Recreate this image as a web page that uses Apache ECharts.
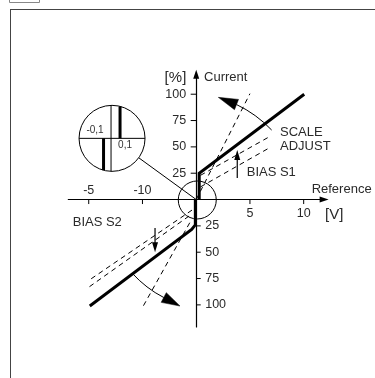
<!DOCTYPE html>
<html><head><meta charset="utf-8">
<script src="https://cdn.jsdelivr.net/npm/echarts@6/dist/echarts.min.js"></script>
<style>html,body{margin:0;padding:0;background:#fff}#c{width:375px;height:378px}</style>
</head><body><div id="c"></div>
<script>
// ---- axis ticks (Reference [V] / Current [%]) ----
const xTickValues = [-10, -5, 5, 10];
const xTickLabels = ['-5', '-10', '5', '10'];
const yTickValues = [100, 75, 50, 25, -25, -50, -75, -100];
const yTickLabels = ['100', '75', '50', '25', '25', '50', '75', '100'];

// ---- characteristic (solid, thick) ----
const upperCurve = [[0.28, 0], [0.28, 25], [10.05, 100]];
const lowerCurve = [[-0.08, 0], [-0.08, -24], [-0.42, -28.3], [-9.9, -101]];

// ---- adjusted characteristics (dashed) ----
const scaleUpper = [[0, 0], [5, 100.5]];
const scaleLower = [[-0.6, -22], [-4.92, -101]];
const biasUpperA = [[0.4, 23], [6.7, 59]];
const biasUpperB = [[0.4, 12], [6.9, 49.6]];
const biasLowerA = [[-0.39, -10], [-9.94, -76.4]];
const biasLowerB = [[-0.67, -15.7], [-9.94, -82.8]];

// ---- SCALE ADJUST curved arrows (start, control, arrow base, tip) ----
const arcStart = [[7.02, 66], [-5.97, -69.8]];
const arcCtrl  = [[5.6, 81.2], [-4.66, -84.4]];
const arcEnd   = [[3.75, 90.2], [-3.02, -93]];
const arcTip   = [[2.06, 97], [-1.51, -101.1]];

// ---- BIAS straight arrows (tail, tip) ----
const biasTail = [[3.82, 20.4], [-3.83, -27]];
const biasTip  = [[3.82, 47], [-3.83, -50]];

// ---- detail circle & magnifier ----
const detailCenter = [[0.1, -0.4]];
const magnifierCenter = [[-7.83, 58.1]];
const magnifierTexts = ['-0,1', '0,1'];

// ---- annotation texts and anchors ----
const annotationTexts = ['[%]', 'Current', 'Reference', '[V]', 'SCALE', 'ADJUST', 'BIAS S1', 'BIAS S2'];
const annotationAnchors = [[-1.93, 115.6], [0.73, 115.6], [10.74, 9.7], [11.98, -14.7], [7.8, 63.4], [7.8, 50.5], [4.7, 25.4], [-11.49, -22]];

const FONT = '"Liberation Sans", Arial, sans-serif';
const TXT = '#2a2a2a';

const chart = echarts.init(document.getElementById('c'), null, {renderer: 'canvas'});

function lineSeries(data, thick) {
  return {
    type: 'line', data: data, symbol: 'none', silent: true, animation: false,
    clip: false, z: thick ? 5 : 3,
    lineStyle: thick ? {color: '#000', width: 3, join: 'miter'} : {color: '#000', width: 1, type: [5, 4]}
  };
}

const axisCommon = {
  type: 'value',
  axisLine: {show: true, onZero: true, symbol: ['none', 'triangle'], symbolSize: [6, 9],
    lineStyle: {color: '#000', width: 1.2}},
  axisTick: {show: false}, axisLabel: {show: false}, splitLine: {show: false}
};

const option = {
  animation: false,
  backgroundColor: '#fff',
  grid: {left: 68.3, right: 50.9, top: 74.2, bottom: 51, containLabel: false, outerBoundsMode: 'none'},
  xAxis: Object.assign({}, axisCommon, {min: -11.9, max: 11.9}),
  yAxis: Object.assign({}, axisCommon, {min: -121, max: 119}),
  graphic: [
    {type: 'line', shape: {x1: 10, y1: 9.5, x2: 375, y2: 9.5}, style: {stroke: '#444', lineWidth: 1}},
    {type: 'line', shape: {x1: 10.5, y1: 9, x2: 10.5, y2: 378}, style: {stroke: '#444', lineWidth: 1}},
    {type: 'rect', shape: {x: 9.5, y: -2, width: 30, height: 4.5}, style: {stroke: '#888', fill: 'none', lineWidth: 1}}
  ],
  series: [
    lineSeries(scaleUpper), lineSeries(scaleLower),
    lineSeries(biasUpperA), lineSeries(biasUpperB),
    lineSeries(biasLowerA), lineSeries(biasLowerB),
    lineSeries(upperCurve, true), lineSeries(lowerCurve, true),
    // y ticks and labels
    {
      type: 'custom', silent: true, clip: false, z: 6,
      data: yTickValues.map(v => [0, v]),
      renderItem: function (params, api) {
        const i = params.dataIndex;
        const v = api.value(1);
        const p = api.coord([0, v]);
        const left = v > 0;
        return {type: 'group', children: [
          {type: 'line', shape: {x1: left ? p[0] - 5.5 : p[0], y1: p[1], x2: left ? p[0] : p[0] + 4.5, y2: p[1]},
            style: {stroke: '#000', lineWidth: 1}},
          {type: 'text', style: {text: yTickLabels[i], x: left ? p[0] - 10 : p[0] + 9, y: p[1],
            align: left ? 'right' : 'left', verticalAlign: 'middle', font: '12.5px ' + FONT, fill: TXT}}
        ]};
      }
    },
    // x ticks and labels
    {
      type: 'custom', silent: true, clip: false, z: 6,
      data: xTickValues.map(v => [v, 0]),
      renderItem: function (params, api) {
        const i = params.dataIndex;
        const v = api.value(0);
        const p = api.coord([v, 0]);
        const above = v < 0;
        return {type: 'group', children: [
          {type: 'line', shape: {x1: p[0], y1: p[1], x2: p[0], y2: p[1] + 4.5},
            style: {stroke: '#000', lineWidth: 1}},
          {type: 'text', style: {text: xTickLabels[i], x: p[0], y: above ? p[1] - 8.5 : p[1] + 14,
            align: 'center', verticalAlign: 'middle', font: '12.5px ' + FONT, fill: TXT}}
        ]};
      }
    },
    // curved SCALE ADJUST arrows
    {
      type: 'custom', silent: true, clip: false, z: 7,
      data: arcStart,
      renderItem: function (params, api) {
        const i = params.dataIndex;
        const s = api.coord(arcStart[i]), c = api.coord(arcCtrl[i]);
        const e = api.coord(arcEnd[i]), t = api.coord(arcTip[i]);
        const dx = t[0] - e[0], dy = t[1] - e[1], L = Math.hypot(dx, dy);
        const nx = -dy / L, ny = dx / L, hw = 5.5;
        return {type: 'group', children: [
          {type: 'bezierCurve', shape: {x1: s[0], y1: s[1], x2: e[0], y2: e[1], cpx1: c[0], cpy1: c[1]},
            style: {stroke: '#000', lineWidth: 1, fill: null}},
          {type: 'polygon', shape: {points: [[t[0], t[1]], [e[0] + nx * hw, e[1] + ny * hw], [e[0] - nx * hw, e[1] - ny * hw]]},
            style: {fill: '#000', stroke: '#000', lineWidth: 0.5}}
        ]};
      }
    },
    // straight BIAS arrows
    {
      type: 'custom', silent: true, clip: false, z: 7,
      data: biasTail,
      renderItem: function (params, api) {
        const i = params.dataIndex;
        const a = api.coord(biasTail[i]), t = api.coord(biasTip[i]);
        const dir = t[1] < a[1] ? 1 : -1; // 1 = pointing up
        const hl = 10, hw = 3;
        return {type: 'group', children: [
          {type: 'line', shape: {x1: a[0], y1: a[1], x2: t[0], y2: t[1] + dir * hl * 0.8},
            style: {stroke: '#000', lineWidth: 1.2}},
          {type: 'polygon', shape: {points: [[t[0], t[1]], [t[0] - hw, t[1] + dir * hl], [t[0] + hw, t[1] + dir * hl]]},
            style: {fill: '#000'}}
        ]};
      }
    },
    // detail circle at origin
    {
      type: 'custom', silent: true, clip: false, z: 8,
      data: detailCenter,
      renderItem: function (params, api) {
        const p = api.coord(detailCenter[0]);
        return {type: 'circle', shape: {cx: p[0], cy: p[1], r: 19}, style: {stroke: '#000', fill: null, lineWidth: 1}};
      }
    },
    // magnifier
    {
      type: 'custom', silent: true, clip: false, z: 8,
      data: magnifierCenter,
      renderItem: function (params, api) {
        const m = api.coord(magnifierCenter[0]);
        const o = api.coord([0, 0]);
        const r = 33;
        const dx = o[0] - m[0], dy = o[1] - m[1], L = Math.hypot(dx, dy);
        const ex = m[0] + dx / L * r, ey = m[1] + dy / L * r;
        const vx = m[0] - 1;
        const k = Math.sqrt(r * r - 1);
        const st = {stroke: '#000', lineWidth: 1};
        const tx = m[0] + 8, bx = m[0] - 8.5;
        return {type: 'group', children: [
          {type: 'line', shape: {x1: ex, y1: ey, x2: o[0], y2: o[1]}, style: st},
          {type: 'circle', shape: {cx: m[0], cy: m[1], r: r}, style: {stroke: '#000', fill: '#fff', lineWidth: 1}},
          {type: 'line', shape: {x1: m[0] - r, y1: m[1], x2: m[0] + r, y2: m[1]}, style: st},
          {type: 'line', shape: {x1: vx, y1: m[1] - k, x2: vx, y2: m[1] + k}, style: st},
          {type: 'line', shape: {x1: tx, y1: m[1] - Math.sqrt(r * r - 64), x2: tx, y2: m[1]}, style: {stroke: '#000', lineWidth: 3}},
          {type: 'line', shape: {x1: bx, y1: m[1], x2: bx, y2: m[1] + Math.sqrt(r * r - 72)}, style: {stroke: '#000', lineWidth: 3}},
          {type: 'text', style: {text: magnifierTexts[0], x: m[0] - 17, y: m[1] - 8, align: 'center', verticalAlign: 'middle', font: '10px ' + FONT, fill: '#333'}},
          {type: 'text', style: {text: magnifierTexts[1], x: m[0] + 13, y: m[1] + 7, align: 'center', verticalAlign: 'middle', font: '10px ' + FONT, fill: '#333'}}
        ]};
      }
    },
    // annotation texts
    {
      type: 'custom', silent: true, clip: false, z: 9,
      data: annotationAnchors,
      renderItem: function (params, api) {
        const i = params.dataIndex;
        const p = api.coord(annotationAnchors[i]);
        const t = annotationTexts[i];
        const big = (t === '[%]' || t === '[V]');
        return {type: 'text', style: {text: t, x: p[0], y: p[1], align: t === '[%]' ? 'center' : 'left',
          verticalAlign: 'middle', font: (big ? '15px ' : '13px ') + FONT, fill: TXT}};
      }
    }
  ]
};
chart.setOption(option);
</script>
</body></html>
